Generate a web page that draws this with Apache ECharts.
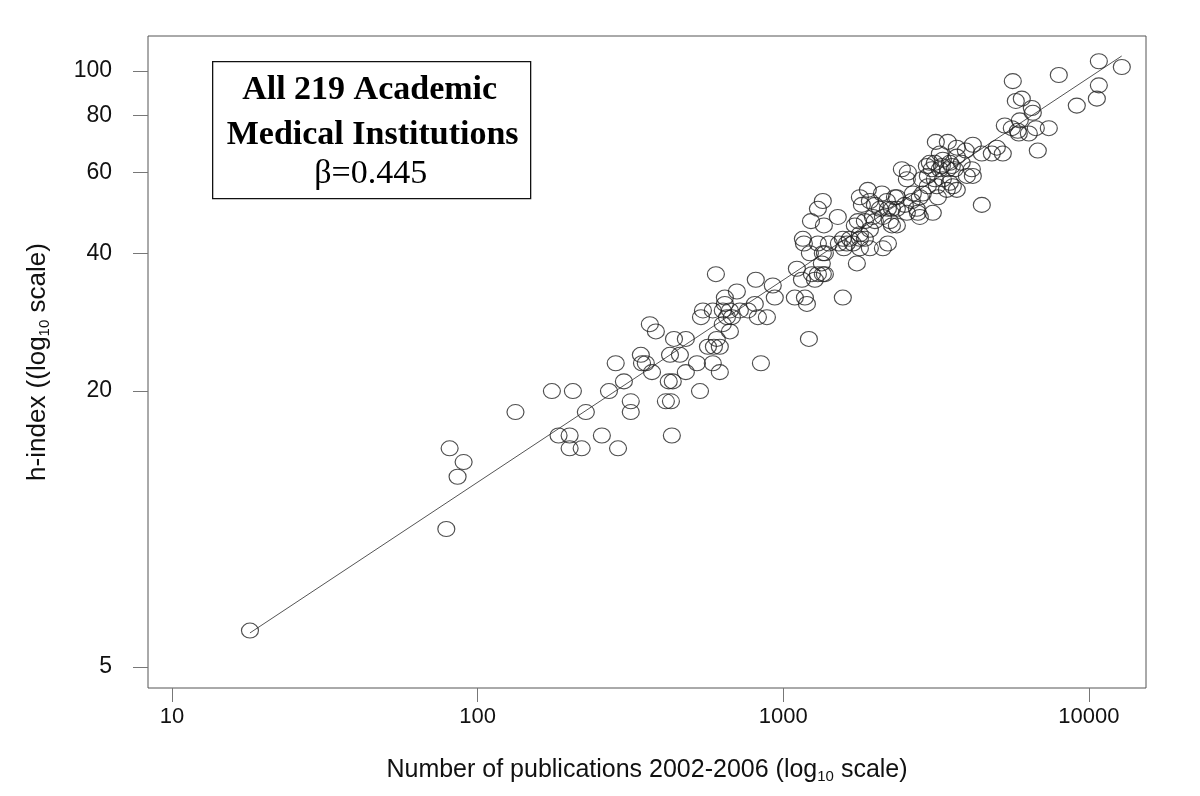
<!DOCTYPE html>
<html>
<head>
<meta charset="utf-8">
<title>h-index vs publications</title>
<script src="https://cdn.jsdelivr.net/npm/echarts@6/dist/echarts.min.js"></script>
<style>
  html, body { margin: 0; padding: 0; background: #fff; }
  #chart { width: 1200px; height: 796px; }
</style>
</head>
<body>
<div id="chart"></div>
<script>
// publications 2002-2006 per institution
var pubs = [18,81,90,86,79,133,175,205,184,200,200,219,226,255,288,269,283,301,317,317,342,345,355,366,383,372,413,429,432,422,435,426,459,439,480,480,
  522,534,546,538,567,593,620,588,620,602,588,634,669,721,654,679,634,644,644,705,766,807,826,884,669,606,845,813,924,938,1091,1177,1195,1213,1108,1151,1241,1298,1347,1269,1222,1347,1337,1159,1168,1298,1410,1347,1298,1232,1358,1508,1520,1566,
  1566,1578,1614,1689,1651,1781,1781,1920,2118,2200,1781,1920,1714,1849,1754,1964,2118,1741,2070,2200,2353,2537,2735,2798,3085,2353,1781,1920,1891,2102,2353,2499,2634,2183,2443,2556,2537,2840,2971,3132,3327,3507,2971,3180,3696,3428,2861,2798,3204,3156,3454,3696,3955,4170,4462,4811,4995,3253,3132,3327,3507,3696,3062,3253,3454,3641,4139,4170,3986,4462,1808,
  10775,12810,7969,10775,10614,9126,5635,5764,6031,6503,6553,5305,5593,5941,5852,5896,6358,6702,7391,6803,5226,
  3016,3302,3835,2654,2319,2267,2233,2756,2267,1849,1368,1994,2949,3560,1994,1368,3587];
// h-index, same order
var hIndex = [6,15,14,13,10,18,20,20,16,16,15,15,18,16,15,20,23,21,19,18,24,23,23,28,27,22,19,19,16,21,21,24,24,26,26,22,
  23,20,30,29,25,25,25,23,22,36,30,30,30,30,29,29,28,32,31,33,30,31,29,29,27,26,23,35,34,32,32,32,31,26,37,35,36,36,36,35,40,40,38,43,42,42,42,52,50,47,46,48,42,32,
  43,41,42,42,43,43,41,41,41,42,44,45,46,47,47,48,48,38,50,50,50,49,50,48,49,46,53,52,55,54,53,51,52,52,61,60,58,58,59,58,58,57,56,56,55,55,54,53,53,70,70,68,67,69,66,66,68,66,63,64,63,65,61,61,61,61,61,59,59,51,51,
  105,102,98,93,87,84,95,86,87,83,81,76,75,78,74,73,73,75,75,67,66,
  63,62,63,54,53,50,47,49,46,43,40,51,62,62,47,36,56];

// fitted line end points
var fitPubs = [18, 12800];
var fitH = [5.93, 107.8];

var xTicks = [10, 100, 1000, 10000];
var yTicks = [5, 20, 40, 60, 80, 100];

var chart = echarts.init(document.getElementById('chart'));

var points = pubs.map(function (p, i) { return [p, hIndex[i]]; });
var fitLine = fitPubs.map(function (p, i) { return [p, fitH[i]]; });

var axisFont = 'Liberation Sans, Arial, sans-serif';
var serif = '"Liberation Serif", "Times New Roman", serif';

var option = {
  backgroundColor: '#fff',
  animation: false,
  grid: {
    left: 148, right: 54, top: 36, bottom: 108,
    show: true, borderColor: '#555', borderWidth: 1
  },
  xAxis: {
    type: 'log',
    logBase: 10,
    min: 8.35,
    max: 15370,
    name: 'Number of publications 2002-2006 (log{sub|10} scale)',
    nameLocation: 'middle',
    nameGap: 68,
    nameTextStyle: {
      fontFamily: axisFont, fontSize: 25, color: '#111',
      rich: { sub: { fontFamily: axisFont, fontSize: 15, color: '#111', padding: [13, 0, 0, 0] } }
    },
    axisLine: { show: false },
    splitLine: { show: false },
    minorTick: { show: false },
    axisTick: { show: true, inside: false, length: 14, customValues: xTicks, lineStyle: { color: '#777' } },
    axisLabel: {
      customValues: xTicks, margin: 18, fontFamily: axisFont, fontSize: 22, color: '#111',
      formatter: function (v) { return String(Math.round(v)); }
    }
  },
  yAxis: {
    type: 'log',
    logBase: 10,
    min: 4.496,
    max: 119.2,
    name: 'h-index ((log{sub|10} scale)',
    nameLocation: 'middle',
    nameRotate: 90,
    nameGap: 96,
    nameTextStyle: {
      fontFamily: axisFont, fontSize: 26, color: '#111',
      rich: { sub: { fontFamily: axisFont, fontSize: 15, color: '#111', padding: [13, 0, 0, 0] } }
    },
    axisLine: { show: false },
    splitLine: { show: false },
    minorTick: { show: false },
    axisTick: { show: true, inside: false, length: 15, customValues: yTicks, lineStyle: { color: '#777' } },
    axisLabel: {
      customValues: yTicks, margin: 36, fontFamily: axisFont, fontSize: 23, color: '#111',
      formatter: function (v) { return String(Math.round(v)); }
    }
  },
  graphic: [{
    type: 'group',
    left: 212,
    top: 61,
    children: [
      { type: 'rect', shape: { x: 0, y: 0, width: 318, height: 137 },
        style: { fill: '#fff', stroke: '#111', lineWidth: 1.3 } },
      { type: 'text', x: 157, y: 29, style: { text: 'All 219 Academic', fill: '#000',
        font: 'bold 34px ' + serif, align: 'center', verticalAlign: 'middle' } },
      { type: 'text', x: 160, y: 74, style: { text: 'Medical Institutions', fill: '#000',
        font: 'bold 34px ' + serif, align: 'center', verticalAlign: 'middle' } },
      { type: 'text', x: 158, y: 112, style: { text: 'β=0.445', fill: '#000',
        font: '34px ' + serif, align: 'center', verticalAlign: 'middle' } }
    ]
  }],
  series: [
    {
      type: 'line',
      data: fitLine,
      symbol: 'none',
      lineStyle: { color: '#555', width: 1 },
      z: 1
    },
    {
      type: 'scatter',
      data: points,
      symbol: 'circle',
      symbolSize: [17, 15],
      itemStyle: { color: 'rgba(0,0,0,0)', borderColor: '#222', borderWidth: 1.1 },
      z: 2
    }
  ]
};

chart.setOption(option);
</script>
</body>
</html>
